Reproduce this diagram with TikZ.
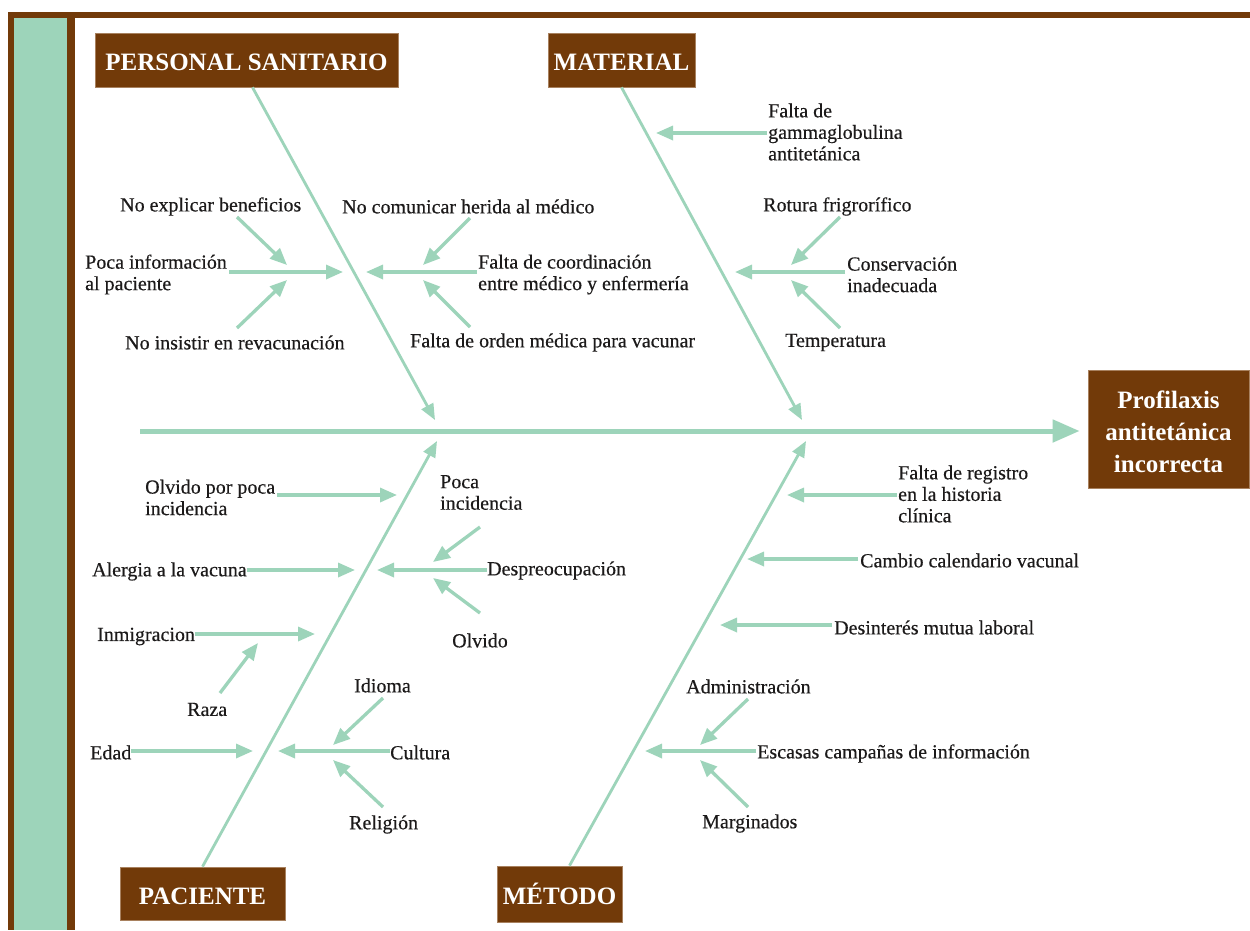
\documentclass[tikz,border=0pt]{standalone}
\usepackage{fontspec}
\setmainfont{Liberation Serif}
\newfontfamily\lblfont[FakeBold=0.35]{Liberation Serif}
\usetikzlibrary{arrows.meta,calc}
\definecolor{brownc}{HTML}{723A09}
\definecolor{tanc}{HTML}{A8815F}
\definecolor{greenc}{HTML}{9DD4BA}
\definecolor{txt}{HTML}{1C1A1A}
\newcommand{\lowertext}[2]{\raisebox{-#1}[\height][\depth]{#2}}
\tikzset{
  lbl/.style={font=\lblfont\fontsize{20}{21.5}\selectfont, text=txt, inner sep=0pt, align=left, anchor=west, yshift=-2.5pt},
  cat/.style={fill=brownc, draw=tanc, line width=0.8pt, text=white, font=\bfseries\fontsize{25}{32}\selectfont, inner sep=0pt, align=center},
  cattext/.style={text=white, font=\bfseries\fontsize{25}{32}\selectfont, inner sep=0pt, align=center},
  bone/.style={draw=greenc, line width=2.8pt, -{Triangle[length=16pt,width=13pt]}},
  sub/.style={draw=greenc, line width=3.3pt, -{Triangle[length=17pt,width=14pt]}},
  spine/.style={draw=greenc, line width=5pt, -{Triangle[length=27pt,width=22pt]}}
}
\begin{document}
\begin{tikzpicture}[x=1pt,y=-1pt]
\useasboundingbox (0,0) rectangle (1250,930);
% frame
\fill[brownc] (8,12) rectangle (1250,930);
\fill[white] (75,18) rectangle (1250,930);
\fill[greenc] (14,18) rectangle (67,930);

% category boxes
\node[cat, minimum width=303pt, minimum height=54pt] (ps) at (246.5,60) {\lowertext{2.5pt}{PERSONAL SANITARIO}};
\node[cat, minimum width=147pt, minimum height=54pt] (mat) at (621.5,60) {\lowertext{2.5pt}{MATERIAL}};
\node[cat, minimum width=165pt, minimum height=53pt] (pac) at (202.5,893.5) {\lowertext{2.5pt}{PACIENTE}};
\node[cat, minimum width=125pt, minimum height=56pt] (met) at (559.5,894) {\lowertext{0pt}{MÉTODO}};
\node[cat, minimum width=161pt, minimum height=118pt] (eff) at (1168.5,429) {};
\node[cattext] (efftext) at (1168.5,431.5) {Profilaxis\\antitetánica\\incorrecta};

% spine
\coordinate (sp) at (140,431);
\draw[spine] (sp) -- ([xshift=-8pt]eff.west |- sp);

% bones
\coordinate (psT) at (435,420);
\coordinate (matT) at (802,420);
\coordinate (pacT) at (437,441);
\coordinate (metT) at (806,441);
\draw[bone] ($(ps.south)+(6,0)$) -- (psT);
\draw[bone] (mat.south) -- (matT);
\draw[bone] (pac.north) -- (pacT);
\draw[bone] ($(met.north)+(10,0)$) -- (metT);

% PERSONAL SANITARIO
\node[lbl] (nexp) at (120,204) {No explicar beneficios};
\node[lbl] (poca) at (85,272) {Poca información\\al paciente};
\node[lbl] (noins) at (125,340) {No insistir en revacunación};
\node[lbl] (nocom) at (342,204) {No comunicar herida al médico};
\node[lbl] (falco) at (478,272) {Falta de coordinación\\entre médico y enfermería};
\node[lbl] (falor) at (410,340) {Falta de orden médica para vacunar};
\coordinate (h1) at (343,272);
\coordinate (h2) at (366,272);
\draw[sub] ([xshift=2pt]poca.east |- h1) -- (h1);
\draw[sub] ([xshift=-1pt]falco.west |- h2) -- (h2);
\coordinate (a1s) at (237,217); \coordinate (a1t) at (287,265);
\coordinate (a2s) at (237,328); \coordinate (a2t) at (287,280);
\coordinate (a3s) at (470,218); \coordinate (a3t) at (423,265);
\coordinate (a4s) at (470,327); \coordinate (a4t) at (423,280);
\draw[sub] (a1s) -- (a1t);
\draw[sub] (a2s) -- (a2t);
\draw[sub] (a3s) -- (a3t);
\draw[sub] (a4s) -- (a4t);

% MATERIAL
\node[lbl, yshift=2.5pt] (gam) at (768,132) {Falta de\\gammaglobulina\\antitetánica};
\node[lbl] (rot) at (763,204) {Rotura frigrorífico};
\node[lbl] (cons) at (847,272) {Conservación\\inadecuada};
\node[lbl] (temp) at (785,340) {Temperatura};
\coordinate (h3) at (656,133);
\coordinate (h4) at (735,272);
\draw[sub] ([xshift=-1pt]gam.west |- h3) -- (h3);
\draw[sub] ([xshift=-2pt]cons.west |- h4) -- (h4);
\coordinate (b1s) at (840,217); \coordinate (b1t) at (791,265);
\coordinate (b2s) at (840,328); \coordinate (b2t) at (791,280);
\draw[sub] (b1s) -- (b1t);
\draw[sub] (b2s) -- (b2t);

% PACIENTE
\node[lbl] (olv) at (145,495) {Olvido por poca\\incidencia};
\node[lbl] (pinc) at (440,490) {Poca\\incidencia};
\node[lbl] (aler) at (92,569) {Alergia a la vacuna};
\node[lbl] (desp) at (487,568) {Despreocupación};
\node[lbl] (olvido) at (452,638) {Olvido};
\node[lbl] (inm) at (97,634) {Inmigracion};
\node[lbl] (raza) at (187,707) {Raza};
\node[lbl] (idi) at (354,683) {Idioma};
\node[lbl] (edad) at (90,750) {Edad};
\node[lbl] (cult) at (390,750) {Cultura};
\node[lbl] (rel) at (349,822) {Religión};
\coordinate (h5) at (397,495);
\coordinate (h6) at (355,570);
\coordinate (h7) at (377,570);
\coordinate (h8) at (315,634);
\coordinate (h9) at (253,751);
\coordinate (h10) at (278,751);
\draw[sub] ([xshift=2pt]olv.east |- h5) -- (h5);
\draw[sub] (aler.east |- h6) -- (h6);
\draw[sub] (desp.west |- h7) -- (h7);
\draw[sub] (inm.east |- h8) -- (h8);
\draw[sub] (edad.east |- h9) -- (h9);
\draw[sub] (cult.west |- h10) -- (h10);
\coordinate (c1s) at (480,527); \coordinate (c1t) at (433,562);
\coordinate (c2s) at (480,613); \coordinate (c2t) at (433,578);
\coordinate (c3s) at (220,693); \coordinate (c3t) at (258,643);
\coordinate (c4s) at (383,698); \coordinate (c4t) at (333,745);
\coordinate (c5s) at (383,807); \coordinate (c5t) at (333,760);
\draw[sub] (c1s) -- (c1t);
\draw[sub] (c2s) -- (c2t);
\draw[sub] (c3s) -- (c3t);
\draw[sub] (c4s) -- (c4t);
\draw[sub] (c5s) -- (c5t);

% METODO
\node[lbl, yshift=2.5pt] (freg) at (898,494) {Falta de registro\\en la historia\\clínica};
\node[lbl] (camb) at (860,558) {Cambio calendario vacunal};
\node[lbl] (des) at (834,625) {Desinterés mutua laboral};
\node[lbl] (adm) at (686,684) {Administración};
\node[lbl] (esc) at (757,751) {Escasas campañas de información};
\node[lbl] (marg) at (702,821) {Marginados};
\coordinate (h11) at (787,495);
\coordinate (h12) at (747,559);
\coordinate (h13) at (720,625);
\coordinate (h14) at (645,751);
\draw[sub] ([xshift=-1pt]freg.west |- h11) -- (h11);
\draw[sub] ([xshift=-2pt]camb.west |- h12) -- (h12);
\draw[sub] ([xshift=-2pt]des.west |- h13) -- (h13);
\draw[sub] ([xshift=-1pt]esc.west |- h14) -- (h14);
\coordinate (d1s) at (748,699); \coordinate (d1t) at (700,745);
\coordinate (d2s) at (748,807); \coordinate (d2t) at (700,760);
\draw[sub] (d1s) -- (d1t);
\draw[sub] (d2s) -- (d2t);
\end{tikzpicture}
\end{document}
